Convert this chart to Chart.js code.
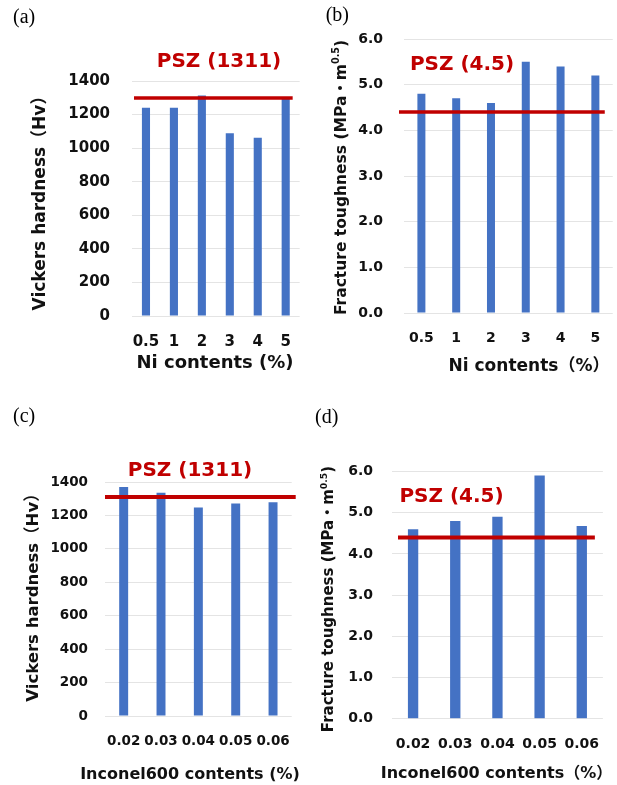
<!DOCTYPE html>
<html><head><meta charset="utf-8">
<script src="https://cdn.jsdelivr.net/npm/chart.js@4/dist/chart.umd.min.js"></script>
<style>
html,body{margin:0;padding:0;background:#fff;width:617px;height:785px;overflow:hidden}
body{position:relative}
canvas{position:absolute}
</style></head><body>
<canvas id="ca" style="left:0px;top:0px" width="308" height="390"></canvas>
<canvas id="cb" style="left:308px;top:0px" width="309" height="390"></canvas>
<canvas id="cc" style="left:0px;top:390px" width="308" height="395"></canvas>
<canvas id="cd" style="left:308px;top:390px" width="309" height="395"></canvas>
<script>
// ---- data ----
const niLabels = ['0.5', '1', '2', '3', '4', '5'];
const hardnessNi = [1240, 1240, 1313, 1088, 1062, 1295];
const toughnessNi = [4.8, 4.7, 4.6, 5.5, 5.4, 5.2];
const inconelLabels = ['0.02', '0.03', '0.04', '0.05', '0.06'];
const hardnessInconel = [1370, 1336, 1247, 1271, 1279];
const toughnessInconel = [4.6, 4.8, 4.9, 5.9, 4.68];
const pszNominal = ['1311', '4.5', '1311', '4.5'];   // text of PSZ labels
const pszLevels = [1298, 4.4, 1310, 4.4];             // where the red PSZ lines are drawn
const hardnessTicks = [0, 1400, 200];                 // min, max, step
const toughnessTicks = [0, 6, 1];

// ---- style ----
const FONT = '"DejaVu Sans", "Noto Sans CJK JP", sans-serif';
const SERIF = '"Liberation Serif", "DejaVu Serif", serif';
const BLUE = '#4472C4';
const RED = '#C00000';
const INK = '#111111';

const overlay = {
  id: 'overlay',
  afterDatasetsDraw(chart, args, o) {
    const ctx = chart.ctx, ca = chart.chartArea, y = chart.scales.y;
    const py = y.getPixelForValue(o.level);
    ctx.save();
    ctx.strokeStyle = RED;
    ctx.lineWidth = o.lw;
    ctx.beginPath();
    ctx.moveTo(ca.left + o.x0, py);
    ctx.lineTo(ca.right + o.x1, py);
    ctx.stroke();
    ctx.restore();
  },
  afterDraw(chart, args, o) {
    const ctx = chart.ctx;
    for (const t of o.texts) {
      ctx.save();
      ctx.translate(t.x, t.y);
      if (t.rot) ctx.rotate(t.rot);
      ctx.fillStyle = t.color || INK;
      ctx.textBaseline = 'alphabetic';
      ctx.textAlign = 'left';
      const segs = Array.isArray(t.text) ? t.text : [{ s: t.text }];
      const fonts = segs.map(sg => `${t.weight || 'bold'} ${sg.sup ? t.size * 0.62 : t.size}px ${t.family || FONT}`);
      const widths = segs.map((sg, i) => { ctx.font = fonts[i]; return ctx.measureText(sg.s).width; });
      const total = widths.reduce((a, b) => a + b, 0);
      let x = t.align === 'left' ? 0 : -total / 2;
      segs.forEach((sg, i) => {
        ctx.font = fonts[i];
        ctx.fillText(sg.s, x, sg.sup ? -t.size * 0.42 : 0);
        x += widths[i];
      });
      ctx.restore();
    }
  }
};

function makeChart(id, labels, values, ticks, o) {
  return new Chart(document.getElementById(id), {
    type: 'bar',
    data: { labels: labels, datasets: [{ data: values, backgroundColor: BLUE, borderWidth: 0,
      barPercentage: o.barPct, categoryPercentage: 1 }] },
    options: {
      responsive: false, animation: false, devicePixelRatio: 1,
      layout: { padding: o.pad },
      plugins: { legend: { display: false }, tooltip: { enabled: false }, title: { display: false },
        overlay: { level: o.level, x0: o.lx0, x1: o.lx1, lw: o.lw, texts: o.texts } },
      scales: {
        x: {
          grid: { display: false, drawTicks: false }, border: { display: false },
          ticks: { color: INK, font: { family: FONT, size: o.xTick, weight: 'bold' }, padding: o.xPad,
            autoSkip: false, maxRotation: 0, minRotation: 0 },
          afterFit: s => { s.height = o.xH; }
        },
        y: {
          min: ticks[0], max: ticks[1],
          grid: { color: '#e4e4e4', lineWidth: 1, drawTicks: false }, border: { display: false },
          ticks: { stepSize: ticks[2], color: INK, font: { family: FONT, size: o.yTick, weight: 'bold' },
            padding: o.yPad, callback: v => v.toFixed(o.dec) },
          afterFit: s => { s.width = o.yW; }
        }
      }
    },
    plugins: [overlay]
  });
}

const toughTitle = () => [{ s: 'Fracture toughness (MPa・m' }, { s: '0.5', sup: true }, { s: ')' }];

makeChart('ca', niLabels, hardnessNi, hardnessTicks, {
  pad: { top: 81, right: 1, left: 0, bottom: 0 }, yW: 132, xH: 74, dec: 0,
  xTick: 15, yTick: 15, yPad: 22, xPad: 17, barPct: 0.29,
  level: pszLevels[0], lx0: 2, lx1: -7, lw: 3.5,
  texts: [
    { text: '(a)', x: 13, y: 23, align: 'left', size: 20, weight: 'normal', family: SERIF, color: '#000' },
    { text: 'PSZ (' + pszNominal[0] + ')', x: 219, y: 67, size: 20, color: RED },
    { text: 'Vickers hardness（Hv）', x: 45, y: 199, rot: -Math.PI / 2, size: 17 },
    { text: 'Ni contents (%)', x: 215, y: 368, size: 18 }
  ]
});

makeChart('cb', niLabels, toughnessNi, toughnessTicks, {
  pad: { top: 39, right: 2, left: 0, bottom: 0 }, yW: 96, xH: 77, dec: 1,
  xTick: 14, yTick: 14, yPad: 21, xPad: 16.6, barPct: 0.23,
  level: pszLevels[1], lx0: -5, lx1: -8, lw: 3.5,
  texts: [
    { text: '(b)', x: 17.7, y: 21, align: 'left', size: 20, weight: 'normal', family: SERIF, color: '#000' },
    { text: 'PSZ (' + pszNominal[1] + ')', x: 154, y: 70, size: 20, color: RED },
    { text: toughTitle(), x: 38, y: 177.5, rot: -Math.PI / 2, size: 15.5 },
    { text: 'Ni contents（%）', x: 221, y: 371, size: 17 }
  ]
});

makeChart('cc', inconelLabels, hardnessInconel, hardnessTicks, {
  pad: { top: 92, right: 7, left: 0, bottom: 0 }, yW: 105, xH: 69, dec: 0,
  xTick: 13.5, yTick: 13.5, yPad: 17, xPad: 17.6, barPct: 0.24,
  level: pszLevels[2], lx0: 0, lx1: 4, lw: 4,
  texts: [
    { text: '(c)', x: 13, y: 32, align: 'left', size: 20, weight: 'normal', family: SERIF, color: '#000' },
    { text: 'PSZ (' + pszNominal[2] + ')', x: 190, y: 86, size: 20, color: RED },
    { text: 'Vickers hardness（Hv）', x: 38, y: 203.5, rot: -Math.PI / 2, size: 16.5 },
    { text: 'Inconel600 contents (%)', x: 190, y: 389, size: 16 }
  ]
});

makeChart('cd', inconelLabels, toughnessInconel, toughnessTicks, {
  pad: { top: 81.5, right: 11.5, left: 0, bottom: 0 }, yW: 84, xH: 66.2, dec: 1,
  xTick: 14, yTick: 14, yPad: 19, xPad: 16.8, barPct: 0.245,
  level: pszLevels[3], lx0: 6, lx1: -8, lw: 4,
  texts: [
    { text: '(d)', x: 7, y: 32.5, align: 'left', size: 20, weight: 'normal', family: SERIF, color: '#000' },
    { text: 'PSZ (' + pszNominal[3] + ')', x: 143.5, y: 112, size: 20, color: RED },
    { text: toughTitle(), x: 25, y: 209, rot: -Math.PI / 2, size: 15 },
    { text: 'Inconel600 contents（%）', x: 188.5, y: 388, size: 16 }
  ]
});
</script>
</body></html>
